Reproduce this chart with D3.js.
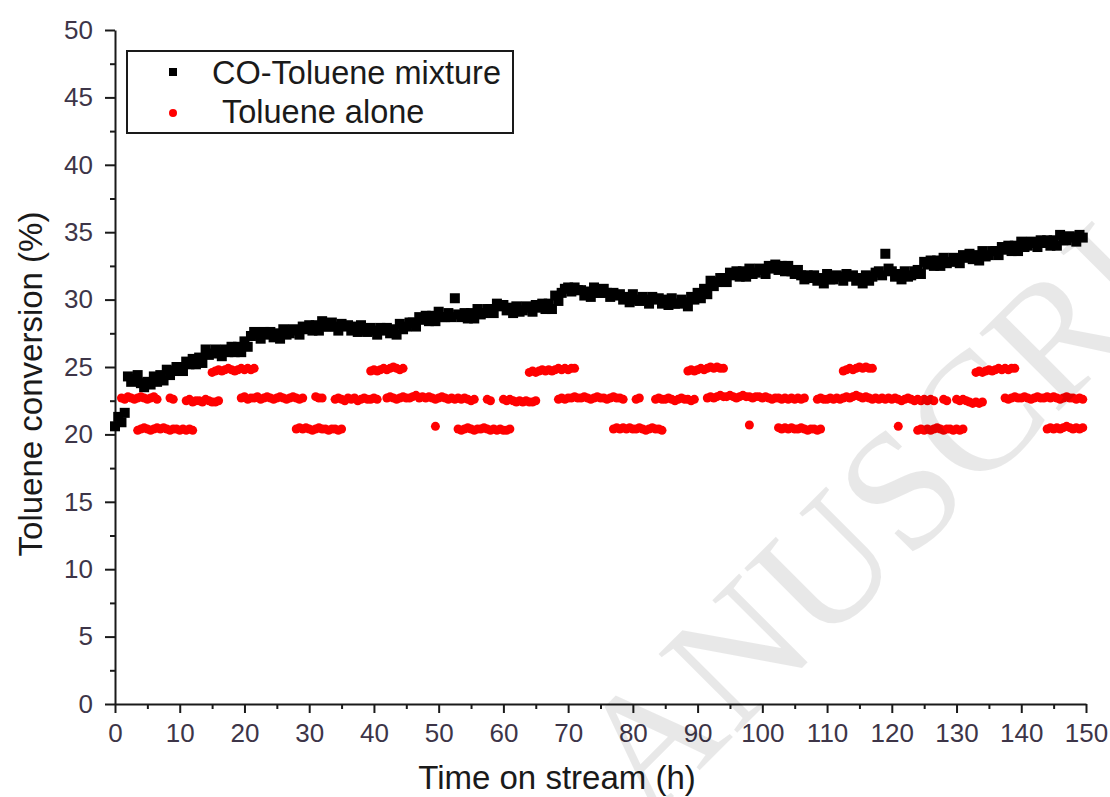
<!DOCTYPE html>
<html><head><meta charset="utf-8">
<script src="https://cdn.jsdelivr.net/npm/d3@7"></script>
<style>body{margin:0;background:#fff}svg{display:block}</style>
</head><body>
<svg id="c" width="1110" height="797"></svg>
<script>
// ---- data ----
const xTicks = [0,10,20,30,40,50,60,70,80,90,100,110,120,130,140,150];
const yTicks = [0,5,10,15,20,25,30,35,40,45,50];
const seriesNames = ["CO-Toluene mixture", "Toluene alone"];
const sampleStep = 0.5; // h between recorded points
// CO-Toluene mixture, sampled every 0.5 h from t = 0
const mixStart = 0;
const mixValues = [
20.6,21.3,20.9,21.6,24.3,23.9,24.1,24.4,23.8,23.5,23.9,23.7,24.3,23.9,24.4,24.0,24.8,24.4,24.7,25.0,
25.0,24.7,25.4,25.2,25.6,25.2,25.7,25.3,26.3,25.9,26.0,26.3,26.1,25.8,26.3,26.1,26.5,26.1,26.5,26.1,
26.9,26.5,27.3,27.6,27.4,27.1,27.6,27.4,27.6,27.2,27.5,27.1,27.8,27.4,27.5,27.8,27.7,27.4,28.0,27.8,
28.1,27.7,28.1,27.7,28.4,28.0,28.0,28.3,28.0,27.7,28.2,28.0,28.1,27.7,28.0,27.6,28.1,27.7,27.6,27.9,
27.7,27.4,27.9,27.7,27.9,27.5,27.8,27.4,28.2,27.8,28.0,28.3,28.3,28.0,28.7,28.5,28.8,28.4,28.8,28.4,
29.1,28.7,28.7,29.0,28.7,30.1,28.9,28.7,29.0,28.6,29.0,28.6,29.3,28.9,29.0,29.3,29.3,29.0,29.7,29.5,
29.6,29.2,29.4,29.0,29.5,29.1,29.2,29.5,29.4,29.1,29.6,29.4,29.7,29.3,29.7,29.3,30.3,29.9,30.5,30.8,
30.9,30.6,30.9,30.7,30.7,30.3,30.6,30.2,30.9,30.5,30.5,30.8,30.5,30.2,30.5,30.3,30.4,30.0,30.2,29.8,
30.4,30.0,29.9,30.2,30.0,29.7,30.2,30.0,30.1,29.7,30.0,29.6,30.1,29.7,29.7,30.0,29.8,29.5,30.2,30.0,
30.5,30.1,30.8,30.4,31.4,31.0,31.3,31.6,31.6,31.3,32.0,31.8,32.1,31.7,32.1,31.7,32.3,31.9,32.0,32.3,
32.2,31.9,32.5,32.3,32.6,32.2,32.5,32.1,32.5,32.1,31.9,32.2,31.8,31.5,31.8,31.6,31.8,31.4,31.6,31.2,
31.9,31.5,31.5,31.8,31.7,31.4,31.9,31.7,31.8,31.4,31.6,31.2,31.8,31.4,31.7,32.0,32.1,31.8,33.4,32.3,
32.1,31.7,31.9,31.5,32.1,31.7,31.8,32.1,32.2,31.9,32.8,32.6,32.9,32.5,32.9,32.5,33.1,32.7,32.8,33.1,
33.0,32.7,33.3,33.1,33.4,33.0,33.3,32.9,33.6,33.2,33.3,33.6,33.6,33.3,33.9,33.7,34.0,33.6,34.0,33.6,
34.3,33.9,34.0,34.3,34.2,33.9,34.4,34.2,34.4,34.0,34.4,34.0,34.8,34.4,34.4,34.7,34.6,34.3,34.8,34.6
];
// Toluene alone: recorded runs (start time of each run + values every 0.5 h)
const aloneStarts = [
  1.0, 8.5, 11.0, 19.5, 31.0, 34.0, 42.0, 57.5, 60.0, 68.5, 80.5, 83.5, 91.5, 108.5, 128.0, 130.0, 137.5,
  15.0, 39.5, 64.0, 88.5, 112.5, 133.0,
  3.5, 28.0, 49.5, 53.0, 77.0, 98.0, 102.5, 121.0, 124.0, 144.0
];
const aloneRuns = [
  [22.7,22.6,22.8,22.7,22.6,22.7,22.8,22.7,22.6,22.7,22.8,22.6],
  [22.7,22.6],
  [22.5,22.6,22.4,22.5,22.5,22.4,22.6,22.5,22.4,22.4,22.5],
  [22.7,22.8,22.6,22.7,22.7,22.8,22.6,22.7,22.8,22.7,22.6,22.7,22.8,22.7,22.6,22.7,22.8,22.7,22.6,22.7],
  [22.8,22.7,22.7],
  [22.6,22.7,22.6,22.5,22.7,22.6,22.7,22.5,22.6,22.7,22.6,22.6,22.7,22.6],
  [22.7,22.8,22.7,22.6,22.7,22.8,22.7,22.7,22.8,22.9,22.7,22.8,22.7,22.8,22.7,22.6,22.7,22.8,22.7,22.6,22.7,22.6,22.7,22.6,22.7,22.6,22.5,22.6],
  [22.6,22.5],
  [22.6,22.5,22.6,22.5,22.4,22.5,22.4,22.5,22.4,22.4,22.5],
  [22.6,22.7,22.6,22.7,22.7,22.8,22.7,22.7,22.8,22.7,22.6,22.7,22.8,22.7,22.7,22.6,22.7,22.8,22.7,22.7,22.6],
  [22.6,22.7],
  [22.6,22.7,22.6,22.6,22.7,22.6,22.5,22.6,22.7,22.6,22.6,22.5,22.6],
  [22.7,22.8,22.7,22.8,22.9,22.8,22.8,22.9,22.8,22.7,22.8,22.9,22.8,22.8,22.7,22.8,22.8,22.7,22.8,22.7,22.6,22.7,22.7,22.6,22.7,22.6,22.7,22.6,22.7,22.6,22.7],
  [22.6,22.7,22.6,22.6,22.7,22.6,22.7,22.6,22.7,22.8,22.7,22.8,22.9,22.8,22.7,22.8,22.7,22.6,22.7,22.6,22.7,22.6,22.7,22.6,22.7,22.6,22.5,22.6,22.7,22.6,22.5,22.6,22.5,22.6,22.5,22.6,22.5],
  [22.6,22.5],
  [22.6,22.5,22.6,22.5,22.4,22.3,22.4,22.3,22.4],
  [22.7,22.6,22.7,22.8,22.7,22.7,22.8,22.7,22.6,22.7,22.8,22.7,22.7,22.8,22.7,22.8,22.7,22.6,22.7,22.8,22.7,22.7,22.6,22.7,22.6],
  [24.6,24.7,24.8,24.7,24.8,24.9,24.8,24.7,24.8,24.9,24.8,24.9,24.8,24.9],
  [24.7,24.8,24.7,24.8,24.9,24.8,24.9,25.0,24.9,24.8,24.9],
  [24.6,24.7,24.6,24.7,24.8,24.7,24.8,24.7,24.8,24.9,24.8,24.9,24.8,24.9,24.9],
  [24.7,24.8,24.7,24.8,24.9,24.8,24.9,25.0,24.9,25.0,24.9,24.9],
  [24.7,24.8,24.9,24.8,24.9,25.0,24.9,25.0,24.9,24.9],
  [24.6,24.7,24.6,24.7,24.8,24.7,24.8,24.9,24.8,24.9,24.8,24.9,24.9],
  [20.3,20.4,20.5,20.4,20.3,20.4,20.5,20.4,20.5,20.4,20.3,20.4,20.4,20.3,20.4,20.3,20.4,20.3],
  [20.4,20.5,20.4,20.5,20.4,20.3,20.4,20.5,20.4,20.4,20.3,20.4,20.4,20.3,20.4],
  [20.6],
  [20.4,20.3,20.4,20.5,20.4,20.3,20.4,20.4,20.5,20.4,20.3,20.4,20.3,20.4,20.3,20.3,20.4],
  [20.4,20.5,20.4,20.5,20.4,20.5,20.4,20.4,20.5,20.4,20.3,20.4,20.5,20.4,20.4,20.3],
  [20.7],
  [20.5,20.4,20.5,20.4,20.5,20.4,20.4,20.5,20.4,20.3,20.4,20.4,20.3,20.4],
  [20.6],
  [20.3,20.4,20.3,20.4,20.3,20.4,20.5,20.4,20.3,20.4,20.4,20.3,20.4,20.3,20.4],
  [20.4,20.5,20.4,20.5,20.4,20.5,20.6,20.5,20.4,20.5,20.4,20.5]
];
const watermark = "ANUSCRI";

// ---- build point tables ----
const mixPts = mixValues.map((v, i) => ({t: mixStart + i * sampleStep, v}));
const alonePts = [];
aloneRuns.forEach((run, k) => run.forEach((v, i) => alonePts.push({t: aloneStarts[k] + i * sampleStep, v})));

// ---- chart ----
const svg = d3.select("#c");
const FONT = "'Liberation Sans', Arial, Helvetica, sans-serif";
const x = d3.scaleLinear().domain([0, 150]).range([115, 1086]);
const y = d3.scaleLinear().domain([0, 50]).range([704, 30]);
const axisColor = "#1a1a1a", labelColor = "#3d3548";

// minor ticks
svg.append("g").attr("transform", "translate(0,704)")
  .call(d3.axisBottom(x).tickValues(d3.range(5, 150, 10)).tickSize(5).tickFormat("").tickSizeOuter(0))
  .call(g => g.select(".domain").remove())
  .call(g => g.selectAll("line").attr("stroke", axisColor).attr("stroke-width", 2));
svg.append("g").attr("transform", "translate(115,0)")
  .call(d3.axisLeft(y).tickValues(d3.range(2.5, 50, 5)).tickSize(5).tickFormat("").tickSizeOuter(0))
  .call(g => g.select(".domain").remove())
  .call(g => g.selectAll("line").attr("stroke", axisColor).attr("stroke-width", 2));

// major axes
const gx = svg.append("g").attr("transform", "translate(0,704)")
  .call(d3.axisBottom(x).tickValues(xTicks).tickSize(9).tickPadding(11).tickSizeOuter(0));
const gy = svg.append("g").attr("transform", "translate(115,0)")
  .call(d3.axisLeft(y).tickValues(yTicks).tickSize(10).tickPadding(12).tickSizeOuter(0));
[gx, gy].forEach(g => {
  g.select(".domain").attr("stroke", axisColor).attr("stroke-width", 2);
  g.selectAll(".tick line").attr("stroke", axisColor).attr("stroke-width", 2);
  g.selectAll(".tick text").attr("fill", labelColor).attr("font-family", FONT).attr("font-size", 26);
});

// data: mixture (black squares), then toluene alone (red circles) on top
const sq = 10;
svg.append("g").selectAll("rect").data(mixPts).join("rect")
  .attr("x", d => x(d.t) - sq / 2).attr("y", d => y(d.v) - sq / 2)
  .attr("width", sq).attr("height", sq).attr("fill", "#000");
svg.append("g").selectAll("circle").data(alonePts).join("circle")
  .attr("cx", d => x(d.t)).attr("cy", d => y(d.v)).attr("r", 4.5).attr("fill", "#ff0000");

// axis titles
svg.append("text").attr("x", 557).attr("y", 789).attr("text-anchor", "middle")
  .attr("font-family", FONT).attr("font-size", 33).attr("fill", "#1a1a1a").text("Time on stream (h)");
svg.append("text").attr("transform", "translate(42,384) rotate(-90)").attr("text-anchor", "middle")
  .attr("font-family", FONT).attr("font-size", 33).attr("fill", "#1a1a1a").text("Toluene conversion (%)");

// legend
const lg = svg.append("g");
lg.append("rect").attr("x", 127).attr("y", 51).attr("width", 386).attr("height", 82)
  .attr("fill", "none").attr("stroke", axisColor).attr("stroke-width", 2);
lg.append("rect").attr("x", 173 - 4).attr("y", 72 - 4).attr("width", 8).attr("height", 8).attr("fill", "#000");
lg.append("circle").attr("cx", 173).attr("cy", 113).attr("r", 4).attr("fill", "#ff0000");
lg.append("text").attr("x", 212).attr("y", 84).attr("font-family", FONT).attr("font-size", 32.5)
  .attr("fill", "#1a1a1a").text(seriesNames[0]);
lg.append("text").attr("x", 222).attr("y", 123).attr("font-family", FONT).attr("font-size", 32.5)
  .attr("fill", "#1a1a1a").text(seriesNames[1]);

// faint diagonal watermark of the source page
svg.append("text").attr("transform", "translate(647,823) rotate(-45)")
  .attr("font-family", "'Liberation Serif', 'Times New Roman', serif").attr("font-size", 170)
  .attr("fill", "#000").attr("fill-opacity", 0.09).text(watermark);
</script>
</body></html>
